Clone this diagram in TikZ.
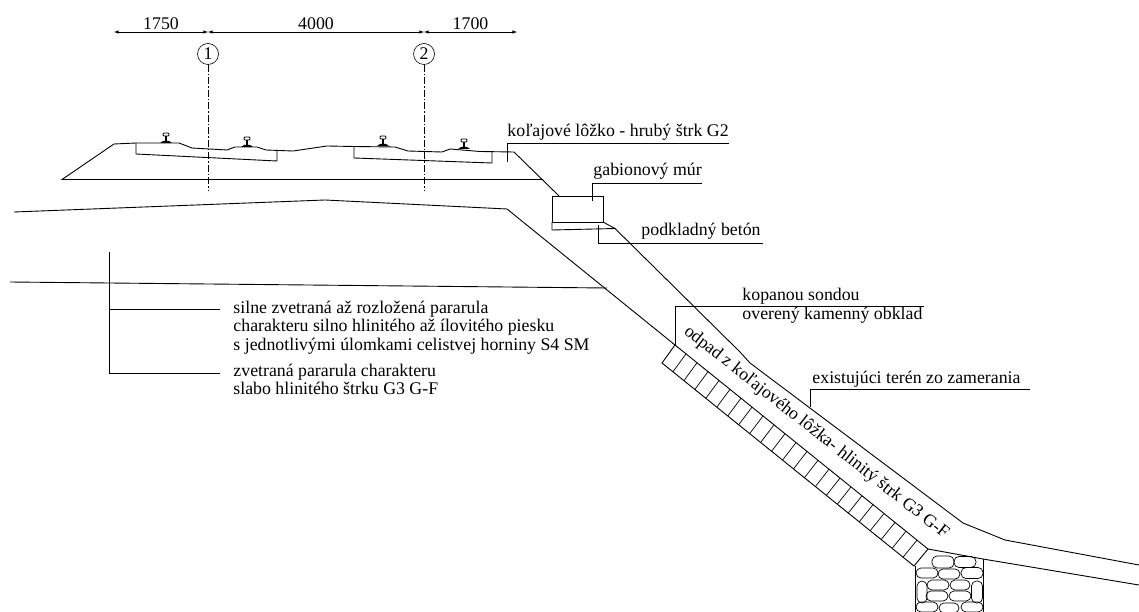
\documentclass[tikz,border=0pt]{standalone}
\usepackage{fontspec}
\setmainfont{Liberation Serif}
\usetikzlibrary{calc}
\tikzset{
  lbl/.style={inner sep=0pt,anchor=west,text height=11pt,text depth=3pt,font=\fontsize{17.8}{20}\selectfont},
  axe/.style={dash pattern=on 7pt off 2pt on 1.5pt off 2pt,line width=0.5pt},
  num/.style={draw,circle,minimum size=21pt,inner sep=0pt,line width=0.6pt,font=\fontsize{17.8}{20}\selectfont},
}
\begin{document}
\begin{tikzpicture}[x=1pt,y=-1pt,line width=0.9pt,>=latex]
    \useasboundingbox (0,0) rectangle (1139,612);
    % cotes
    \coordinate (d0) at (114,32);
    \coordinate (d1) at (208,32);
    \coordinate (d2) at (424,32);
    \coordinate (d3) at (517,32);
    \foreach \a/\b/\dtext in {d0/d1/1750,d1/d2/4000,d2/d3/1700}
    \draw[<->,line width=0.6pt] (\a)--(\b) node[pos=0.5,above=1pt,inner sep=1pt,font=\fontsize{17.8}{20}\selectfont] {\dtext};
    % osi kolaji
    \node[num] (os1) at (208,54) {1};
    \node[num] (os2) at (424,54) {2};
    \coordinate (os1b) at (208,190);
    \coordinate (os2b) at (424,190);
    \draw[axe] (os1)--(os1b);
    \draw[axe] (os2)--(os2b);
    % lozko
    \draw (543,179.5)--(62,179.5)--(114,144)--(136,143)--(179,143)--(192,148)--(227,150)--(235,147)--(257,147)--(266,150)--(293,151)--(327,146)--(354,146.5)--(395,147)--(408,151)--(442,152)--(450,149)--(480,151.5)--(514,152)--(559,196);
    \draw (136,143)--(136,154)--(277,161)--(277,150.5);
    \draw (354,147)--(354,158)--(492,163)--(492,152);
    % kolajnice
    \foreach \x/\y in {166/143,247/147,383/146,464/149}
    {
      \fill[shift={(\x,\y)}] (-6,0)--(-3,-2)--(3,-2)--(6,0)--cycle;
      \draw[shift={(\x,\y)},line width=1.2pt] (0,-1)--(0,-7);
      \draw[shift={(\x,\y)},line width=0.9pt,rounded corners=1pt] (-3,-10) rectangle (3,-7);
    }
    % gabion
    \draw (552,196) rectangle (603,222);
    \draw (552,222)--(552,230)--(615,228.5)--(603,222);
    \draw (615,228.5)--(740,352)--(750,363)--(963,523)--(1005,540)--(1139,565);
    % teren
    \draw (14,212)--(325,200)--(507,209)--(675,345);
    \draw (10,282)--(607,288);
    \draw (675,345)--(928,549)--(983,559)--(1139,585);
    % odpad
    \coordinate (hatA) at (675,345);
    \coordinate (hatB) at (928,549);
    \coordinate (hatC) at (662,363);
    \coordinate (hatD) at (914,566);
    \draw (hatA)--(hatC)--(hatD)--(hatB);
    \foreach \i in {1,...,22}
    \draw[line width=0.7pt] ($(hatA)!\i/23!(hatB)$)--($(hatC)!\i/23!(hatD)$);
    % kamene
    \draw (915,566)--(915,612);
    \draw (983,559)--(983,612);
    \foreach \x/\y/\rx/\ry in {943/562/11/6,965/562/11/5.5,927/573/11/5,949/574/11/5,972/573/11/5.5,922/592/5/11,938/585/11/5,960/585/10/5,977/592/5.5/11,937/596/11/5,960/596/11/5,927/607/11/5,949/608/10/5,972/607/11/5}
    \draw[line width=0.7pt,rounded corners=5pt] ({\x-\rx},{\y-\ry}) rectangle ({\x+\rx},{\y+\ry});
    % popisy
    \coordinate (k0) at (507,162);
    \coordinate (k1) at (507,143);
    \coordinate (k2) at (729,143);
    \draw[line width=0.7pt] (k0)--(k1)--(k2);
    \node[lbl] (kolaj) at (507,133) {koľajové lôžko - hrubý štrk G2};
    \coordinate (g0) at (592,201);
    \coordinate (g1) at (592,183);
    \coordinate (g2) at (702,183);
    \draw[line width=0.7pt] (g0)--(g1)--(g2);
    \node[lbl] (gabion) at (593,172) {gabionový múr};
    \coordinate (b0) at (598,225);
    \coordinate (b1) at (598,243);
    \coordinate (b2) at (763,243);
    \draw[line width=0.7pt] (b0)--(b1)--(b2);
    \node[lbl] (beton) at (641,232) {podkladný betón};
    \coordinate (s0) at (675,345);
    \coordinate (s1) at (675,306);
    \coordinate (s2) at (924,306);
    \draw[line width=0.7pt] (s0)--(s1)--(s2);
    \node[lbl] (sonda) at (742,296) {kopanou sondou};
    \node[lbl] (obklad) at (742,315) {overený kamenný obklad};
    \coordinate (e0) at (810,407);
    \coordinate (e1) at (810,389);
    \coordinate (e2) at (1030,389);
    \draw[line width=0.7pt] (e0)--(e1)--(e2);
    \node[lbl] (teren) at (812,379) {existujúci terén zo zamerania};
    % vrstvy
    \coordinate (v0) at (109,252);
    \coordinate (v1) at (109,309);
    \coordinate (v2) at (109,373);
    \coordinate (v3) at (220,309);
    \coordinate (v4) at (220,373);
    \draw[line width=0.7pt] (v0)--(v2)--(v4);
    \draw[line width=0.7pt] (v1)--(v3);
    \node[lbl] (sil1) at (233,309) {silne zvetraná až rozložená pararula};
    \node[lbl] (sil2) at (233,327) {charakteru silno hlinitého až ílovitého piesku};
    \node[lbl] (sil3) at (233,346) {s jednotlivými úlomkami celistvej horniny S4 SM};
    \node[lbl] (zve1) at (233,372) {zvetraná pararula charakteru};
    \node[lbl] (zve2) at (233,390) {slabo hlinitého štrku G3 G-F};
    \node[lbl,anchor=center,rotate=-38.3] (odpad) at (816,433) {odpad z koľajového lôžka- hlinitý štrk G3 G-F};
\end{tikzpicture}
\end{document}
